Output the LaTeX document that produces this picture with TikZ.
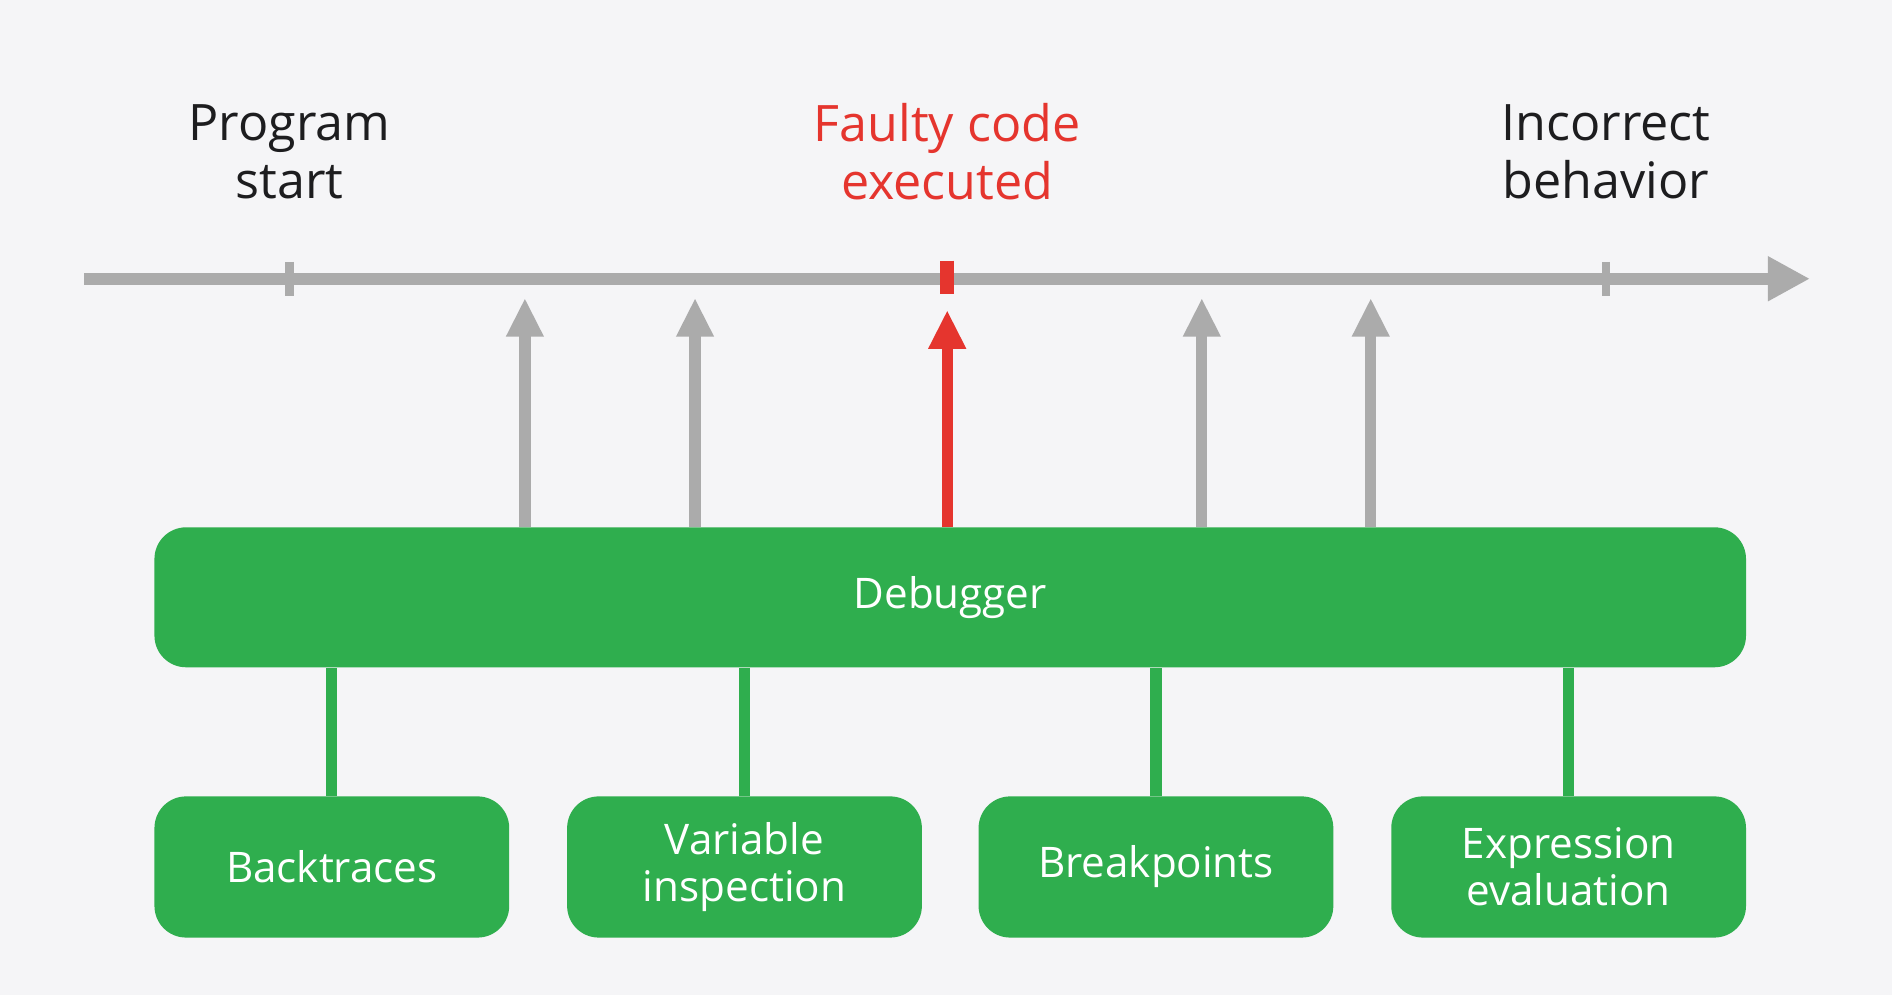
\documentclass[tikz,border=0pt]{standalone}
\usepackage{fontspec}
\setmainfont{Open Sans}
\usetikzlibrary{arrows.meta}
\definecolor{bg}{HTML}{F5F5F7}
\definecolor{tl}{HTML}{ABABAB}
\definecolor{rd}{HTML}{E5352E}
\definecolor{gr}{HTML}{2FAE4E}
\definecolor{tx}{HTML}{1D1D1F}
\begin{document}
\begin{tikzpicture}[x=0.012066cm,y=-0.012066cm,
  box/.style={fill=gr,rounded corners=9pt,text=white,font=\fontsize{12}{13.5}\selectfont,align=center,inner sep=0pt},
  lbl/.style={font=\fontsize{14.3}{16.5}\selectfont,align=center,text=tx},
  up/.style={line width=3.2pt,tl,-{Triangle[length=11pt,width=10pt]}},
  con/.style={line width=3.2pt,gr}]
\fill[bg] (0,0) rectangle (1568,825);
\useasboundingbox (0,0) rectangle (1568,825);
\coordinate (ts) at (70,231);
\coordinate (te) at (1500,231);
\draw[line width=3.5pt,tl,-{Triangle[length=12pt,width=12pt]}] (ts) -- (te);
\draw[line width=2.5pt,tl] (240,217) -- (240,245);
\draw[line width=2.5pt,tl] (1331,217) -- (1331,245);
\draw[line width=4pt,rd] (785,216) -- (785,244);
\node[lbl] (l1) at (240,126) {Program\\start};
\node[lbl,text=rd] (l2) at (785,126) {Faulty code\\executed};
\node[lbl] (l3) at (1331,126) {Incorrect\\behavior};
\node[box,minimum width=1319*0.012066cm,minimum height=116*0.012066cm] (dbg) at (787.5,495) {Debugger};
\foreach \n/\x/\t in {b1/275/Backtraces,b2/617/{Variable\\inspection},b3/958/Breakpoints,b4/1300/{Expression\\evaluation}}{
  \node[box,minimum width=294*0.012066cm,minimum height=117*0.012066cm] (\n) at (\x,718.5) {\t};
  \draw[con] (\n.north) -- (\n.north |- dbg.south);
}
\foreach \x in {435,576,996,1136}{
  \coordinate (a\x) at (\x,247);
  \draw[up] (\x,437) -- (a\x);
}
\coordinate (ar) at (785,257);
\draw[up,rd] (785,437) -- (ar);
\end{tikzpicture}
\end{document}
